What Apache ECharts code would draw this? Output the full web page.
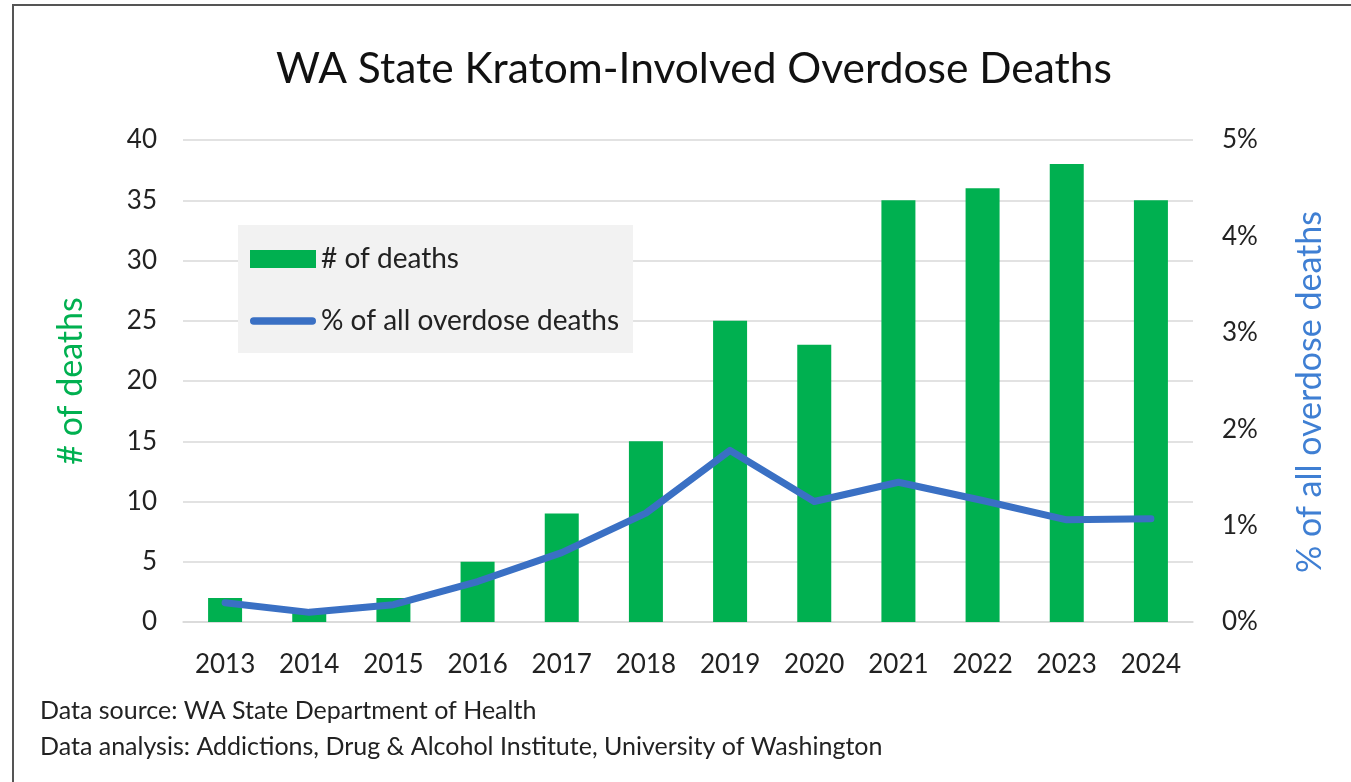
<!DOCTYPE html>
<html>
<head>
<meta charset="utf-8">
<title>WA State Kratom-Involved Overdose Deaths</title>
<script src="https://cdn.jsdelivr.net/npm/echarts@6/dist/echarts.min.js"></script>
<style>
  html, body { margin: 0; padding: 0; background: #fff; }
  #chart { position: absolute; left: 0; top: 0; width: 1351px; height: 782px; }
  .frame-top { position: absolute; left: 12px; top: 4px; right: 0; height: 2px; background: #555; }
  .frame-left { position: absolute; left: 12px; top: 4px; bottom: 0; width: 2px; background: #555; }
</style>
</head>
<body>
<div id="chart"></div>
<div class="frame-top"></div>
<div class="frame-left"></div>
<script>
// data
const years = ['2013', '2014', '2015', '2016', '2017', '2018', '2019', '2020', '2021', '2022', '2023', '2024']
const deaths = [2, 1, 2, 5, 9, 15, 25, 23, 35, 36, 38, 35]
const pctOfAll = [0.20, 0.10, 0.18, 0.42, 0.72, 1.13, 1.78, 1.25, 1.45, 1.26, 1.06, 1.07]
const leftTicks = { min: 0, max: 40, interval: 5 }
const rightTicks = { min: 0, max: 5, interval: 1 }

const FONT = 'Lato, "Open Sans", sans-serif'
const GREEN = '#00B050'
const BLUE = '#3A70C4'

const chart = echarts.init(document.getElementById('chart'))

const option = {
  backgroundColor: '#fff',
  animation: false,
  title: {
    text: 'WA State Kratom-Involved Overdose Deaths',
    left: 271,
    top: 43,
    textStyle: { fontFamily: FONT, fontSize: 42.5, fontWeight: 'normal', color: '#111' }
  },
  legend: {
    orient: 'vertical',
    left: 238,
    top: 225,
    backgroundColor: '#f2f2f2',
    padding: [19, 14, 17, 12],
    itemGap: 32,
    itemWidth: 66,
    itemHeight: 18,
    itemTextGap: 6,
    textStyle: { fontFamily: FONT, fontSize: 28, color: '#222', lineHeight: 30 },
    data: [
      { name: '# of deaths', icon: 'rect' },
      { name: '% of all overdose deaths', icon: 'path://M4,0 L66,0 A4,4 0 0 1 66,8 L4,8 A4,4 0 0 1 4,0 Z' }
    ]
  },
  grid: { left: 183, right: 158, top: 140, bottom: 160 },
  xAxis: {
    type: 'category',
    data: years,
    axisLine: { lineStyle: { color: '#d9d9d9', width: 1.5 } },
    axisTick: { show: false },
    axisLabel: { fontFamily: FONT, fontSize: 26, color: '#222', margin: 30 }
  },
  yAxis: [
    {
      type: 'value',
      min: leftTicks.min,
      max: leftTicks.max,
      interval: leftTicks.interval,
      name: '# of deaths',
      nameLocation: 'middle',
      nameRotate: 90,
      nameGap: 95,
      nameTextStyle: { fontFamily: FONT, fontSize: 34, color: GREEN },
      axisLine: { show: false },
      axisTick: { show: false },
      axisLabel: { fontFamily: FONT, fontSize: 26, color: '#222', margin: 26 },
      splitLine: { lineStyle: { color: '#d9d9d9', width: 1.5 } }
    },
    {
      type: 'value',
      position: 'right',
      min: rightTicks.min,
      max: rightTicks.max,
      interval: rightTicks.interval,
      name: '% of all overdose deaths',
      nameLocation: 'middle',
      nameRotate: 90,
      nameGap: 100,
      nameTextStyle: { fontFamily: FONT, fontSize: 34, color: '#3F7FD3', padding: [0, 22, 0, 0] },
      axisLine: { show: false },
      axisTick: { show: false },
      axisLabel: { fontFamily: FONT, fontSize: 26, color: '#222', margin: 29, formatter: '{value}%' },
      splitLine: { show: false }
    }
  ],
  series: [
    {
      name: '# of deaths',
      type: 'bar',
      yAxisIndex: 0,
      barWidth: 34,
      itemStyle: { color: GREEN },
      data: deaths
    },
    {
      name: '% of all overdose deaths',
      type: 'line',
      yAxisIndex: 1,
      symbol: 'none',
      lineStyle: { color: BLUE, width: 7, cap: 'round', join: 'round' },
      itemStyle: { color: BLUE },
      data: pctOfAll
    }
  ],
  graphic: [
    {
      type: 'text',
      left: 40,
      top: 698,
      style: { text: 'Data source: WA State Department of Health', fontFamily: FONT, fontSize: 25, fill: '#222' }
    },
    {
      type: 'text',
      left: 40,
      top: 734,
      style: { text: 'Data analysis: Addictions, Drug & Alcohol Institute, University of Washington', fontFamily: FONT, fontSize: 25, fill: '#222' }
    }
  ]
}

chart.setOption(option)
</script>
</body>
</html>
